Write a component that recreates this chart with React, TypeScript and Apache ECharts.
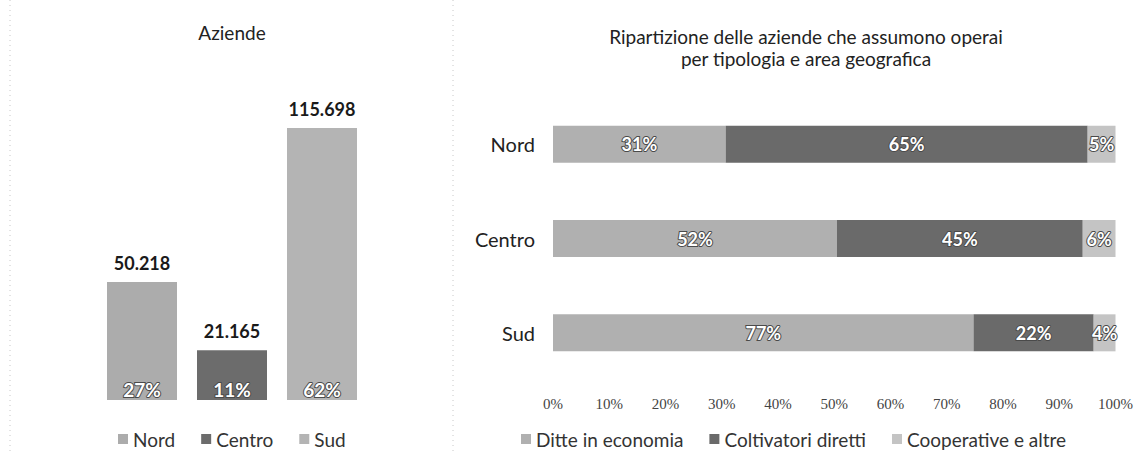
import React, { useEffect, useRef } from "react";
import * as echarts from "echarts";

const regions = ["Nord", "Centro", "Sud"];
const aziende = [50218, 21165, 115698];
const aziendeShare = [27, 11, 62];

const typeNames = ["Ditte in economia", "Coltivatori diretti", "Cooperative e altre"];
const ditte = [31, 52, 77];
const coltivatori = [65, 45, 22];
const cooperative = [5, 6, 4];

const titleLeft = "Aziende";
const titleRight1 = "Ripartizione delle aziende che assumono operai";
const titleRight2 = "per tipologia e area geografica";

const leftColors = ["#acacac", "#6c6c6c", "#b4b4b4"];
const rightColors = ["#b0b0b0", "#6a6a6a", "#c4c4c4"];

const FONT = "Lato, 'Open Sans', sans-serif";

function fmtThousands(v: number): string {
  return String(v).replace(/\B(?=(\d{3})+(?!\d))/g, ".");
}

export default function App() {
  const ref = useRef<HTMLDivElement>(null);
  useEffect(() => {
    if (!ref.current) return;
    const chart = echarts.init(ref.current, undefined, { renderer: "svg" });
    const rightSets = [ditte, coltivatori, cooperative];
    const totals = regions.map((_, i) => ditte[i] + coltivatori[i] + cooperative[i]);

    const insideLabel = {
      color: "#ffffff",
      fontWeight: "bold" as const,
      fontFamily: FONT,
      textBorderColor: "#4a4a4a",
      textBorderWidth: 2,
    };

    const leftSeries: any[] = regions.map((r, i) => ({
      type: "bar",
      name: r,
      xAxisIndex: 0,
      yAxisIndex: 0,
      barWidth: 70,
      barGap: "-100%",
      data: regions.map((_, j) => (j === i ? aziende[i] : null)),
      itemStyle: { color: leftColors[i] },
      label: {
        show: true,
        position: "top",
        distance: 10,
        fontSize: 18,
        fontWeight: "bold",
        fontFamily: FONT,
        color: "#1a1a1a",
        formatter: (p: any) => fmtThousands(p.value),
      },
    }));
    leftSeries.push({
      type: "bar",
      name: "quota",
      xAxisIndex: 0,
      yAxisIndex: 0,
      barWidth: 70,
      barGap: "-100%",
      silent: true,
      data: aziende,
      itemStyle: { color: "rgba(0,0,0,0)" },
      label: {
        show: true,
        position: "insideBottom",
        distance: 1,
        ...insideLabel,
        fontSize: 19,
        formatter: (p: any) => aziendeShare[p.dataIndex] + "%",
      },
      z: 5,
    });

    const rightSeries = typeNames.map((t, k) => ({
      type: "bar",
      name: t,
      xAxisIndex: 1,
      yAxisIndex: 1,
      stack: "tot",
      barWidth: 37,
      data: regions.map((_, i) => (rightSets[k][i] / totals[i]) * 100),
      itemStyle: { color: rightColors[k] },
      label: {
        show: true,
        position: "inside",
        ...insideLabel,
        fontSize: 18,
        formatter: (p: any) => rightSets[k][p.dataIndex] + "%",
      },
    }));

    const legendText = { fontSize: 19, lineHeight: 20, fontFamily: FONT, color: "#333" };
    const titleText = { fontSize: 19, lineHeight: 20, fontWeight: "normal" as const, fontFamily: FONT, color: "#222" };

    chart.setOption({
      animation: false,
      backgroundColor: "#ffffff",
      title: [
        { text: titleLeft, left: 232, top: 22, textAlign: "center", padding: 0, textStyle: titleText },
        { text: titleRight1, left: 806, top: 26, textAlign: "center", padding: 0, textStyle: titleText },
        { text: titleRight2, left: 806, top: 48, textAlign: "center", padding: 0, textStyle: titleText },
      ],
      legend: [
        {
          data: regions,
          left: 113,
          top: 424,
          icon: "rect",
          itemWidth: 10,
          itemHeight: 10,
          itemGap: 26,
          textStyle: legendText,
        },
        {
          data: typeNames,
          left: 516,
          top: 424,
          icon: "rect",
          itemWidth: 10,
          itemHeight: 10,
          itemGap: 26,
          textStyle: legendText,
        },
      ],
      grid: [
        { left: 97, width: 270, top: 128, bottom: 54 },
        { left: 553, right: 19, top: 97, bottom: 74 },
      ],
      xAxis: [
        { type: "category", gridIndex: 0, data: regions, show: false },
        {
          type: "value",
          gridIndex: 1,
          min: 0,
          max: 100,
          interval: 10,
          axisLine: { show: false },
          axisTick: { show: false },
          splitLine: { show: false },
          axisLabel: {
            margin: 16,
            fontSize: 15,
            fontFamily: "'Liberation Serif', serif",
            color: "#444",
            formatter: "{value}%",
          },
        },
      ],
      yAxis: [
        { type: "value", gridIndex: 0, min: 0, max: "dataMax", show: false },
        {
          type: "category",
          gridIndex: 1,
          data: regions,
          inverse: true,
          axisLine: { show: false },
          axisTick: { show: false },
          axisLabel: { margin: 18, fontSize: 20, fontFamily: FONT, color: "#222" },
        },
      ],
      graphic: [
        {
          type: "line",
          shape: { x1: 10, y1: 0, x2: 10, y2: 454 },
          style: { stroke: "#c8c8c8", lineWidth: 1, lineDash: [1, 4] },
          silent: true,
        },
        {
          type: "line",
          shape: { x1: 453, y1: 0, x2: 453, y2: 454 },
          style: { stroke: "#c8c8c8", lineWidth: 1, lineDash: [1, 4] },
          silent: true,
        },
      ],
      series: [...leftSeries, ...rightSeries],
    });
    return () => chart.dispose();
  }, []);
  return (
    <div
      ref={ref}
      style={{ position: "fixed", left: 0, top: 0, width: 1136, height: 454 }}
    />
  );
}
